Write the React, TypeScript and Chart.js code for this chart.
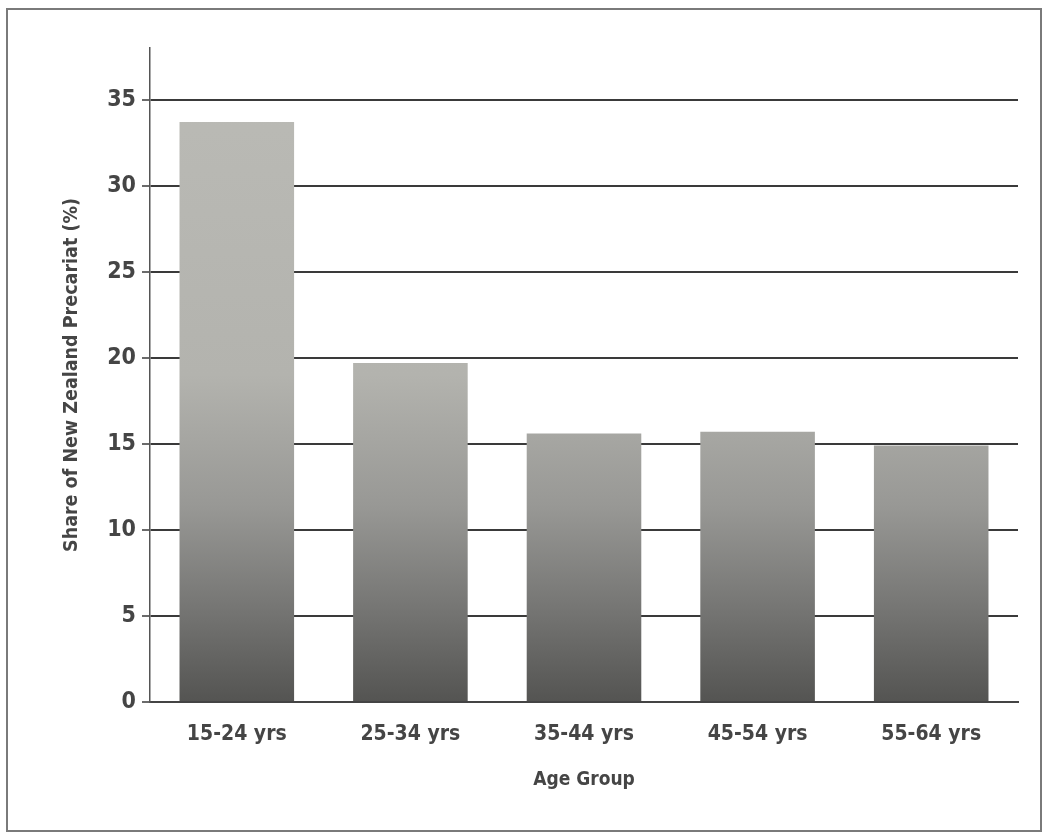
import React, { useEffect, useRef } from "react";
import { Chart, registerables } from "chart.js";

Chart.register(...registerables);

const categories = ["15-24 yrs", "25-34 yrs", "35-44 yrs", "45-54 yrs", "55-64 yrs"];
const shareValues = [33.7, 19.7, 15.6, 15.7, 14.9];
const yTickValues = [0, 5, 10, 15, 20, 25, 30, 35];
const yAxisMax = 38;

const FONT = "'DejaVu Sans Condensed', 'Liberation Sans Narrow', sans-serif";
const TEXT = "#454545";

export default function App() {
  const canvasRef = useRef<HTMLCanvasElement | null>(null);

  useEffect(() => {
    const canvas = canvasRef.current;
    if (!canvas) return;
    const chart = new Chart(canvas, {
      type: "bar",
      data: {
        labels: categories,
        datasets: [
          {
            data: shareValues,
            backgroundColor: (ctx: any) => {
              const area = ctx.chart.chartArea;
              if (!area) return "#999";
              const g = ctx.chart.ctx.createLinearGradient(0, area.top, 0, area.bottom);
              g.addColorStop(0, "#bbbbb6");
              g.addColorStop(0.5, "#b3b3ae");
              g.addColorStop(0.7, "#989895");
              g.addColorStop(0.85, "#777775");
              g.addColorStop(1, "#545452");
              return g;
            },
            borderWidth: 0,
            categoryPercentage: 1,
            barPercentage: 0.66,
          },
        ],
      },
      options: {
        animation: false,
        responsive: true,
        maintainAspectRatio: false,
        layout: { padding: { left: 56, top: 48, right: 33, bottom: 40 } },
        plugins: {
          legend: { display: false },
          tooltip: { enabled: false },
        },
        scales: {
          x: {
            offset: true,
            grid: { display: false, drawTicks: false },
            border: { display: true, color: "#444", width: 2 },
            ticks: {
              padding: 20,
              color: TEXT,
              font: { family: FONT, size: 21, weight: "bold" },
            },
            title: {
              display: true,
              text: "Age Group",
              color: TEXT,
              font: { family: FONT, size: 19, weight: "bold" },
              padding: { top: 4, bottom: 4 },
            },
            afterFit: (scale: any) => {
              scale.height = 93;
            },
          },
          y: {
            min: 0,
            max: yAxisMax,
            afterBuildTicks: (scale: any) => {
              scale.ticks = yTickValues.map((v) => ({ value: v }));
            },
            grid: {
              color: "#3a3a3a",
              lineWidth: 2,
              tickLength: 8,
              tickWidth: 1.5,
              tickColor: "#3a3a3a",
            },
            border: { display: true, color: "#555", width: 1.5 },
            ticks: {
              padding: 6,
              color: TEXT,
              font: { family: FONT, size: 23, weight: "bold" },
            },
            title: {
              display: true,
              text: "Share of New Zealand Precariat (%)",
              color: TEXT,
              font: { family: FONT, size: 19.5, weight: "bold" },
              padding: { top: 4, bottom: 4 },
            },
            afterFit: (scale: any) => {
              scale.width = 94;
            },
          },
        },
      },
    });
    return () => chart.destroy();
  }, []);

  return (
    <div
      style={{
        position: "fixed",
        left: 0,
        top: 0,
        width: 1051,
        height: 835,
        background: "#ffffff",
      }}
    >
      <div
        style={{
          position: "absolute",
          left: 6,
          top: 8,
          width: 1032,
          height: 820,
          border: "2px solid #7a7a7a",
          pointerEvents: "none",
        }}
      />
      <canvas ref={canvasRef} style={{ position: "absolute", left: 0, top: 0, width: 1051, height: 835 }} />
    </div>
  );
}
